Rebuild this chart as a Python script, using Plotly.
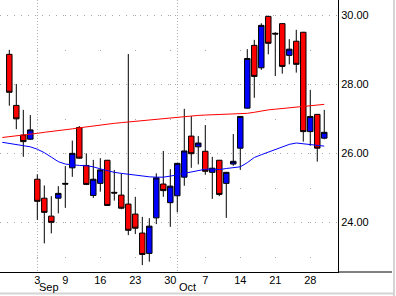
import plotly.graph_objects as go

# ---- data ----
idx = list(range(46))
opens  = [28.86, 27.38, 26.52, 26.40, 25.24, 24.69, 24.17, 24.69, 25.12, 25.57,
          26.74, 25.64, 24.77, 25.12, 25.79, 24.86, 24.78, 24.52, 24.23, 23.68,
          23.09, 24.12, 25.10, 24.56, 24.76, 25.30, 26.49, 26.18, 26.05, 25.44,
          25.79, 25.12, 25.68, 26.14, 27.30, 29.12, 28.47, 29.96, 29.47, 29.75,
          28.83, 29.24, 29.50, 26.62, 27.12, 26.43]
highs  = [28.99, 28.00, 27.25, 27.10, 25.38, 25.06, 24.75, 25.04, 25.62, 26.36,
          26.78, 25.99, 25.80, 25.85, 25.80, 25.51, 25.41, 28.87, 24.73, 24.15,
          24.11, 25.41, 26.06, 25.53, 25.71, 27.28, 27.07, 26.49, 26.81, 25.89,
          25.80, 25.45, 26.55, 27.07, 29.01, 29.28, 29.76, 29.98, 29.50, 29.76,
          29.30, 29.57, 29.51, 27.83, 27.13, 27.25]
lows   = [27.37, 26.69, 25.89, 26.38, 24.06, 23.38, 23.67, 24.25, 24.41, 25.31,
          25.84, 25.07, 24.70, 24.88, 24.47, 24.62, 24.37, 23.62, 23.65, 22.75,
          22.85, 23.94, 24.73, 23.86, 24.28, 25.05, 25.57, 25.67, 25.37, 24.67,
          24.75, 24.12, 25.63, 25.51, 27.29, 27.60, 28.41, 28.86, 28.23, 28.30,
          28.57, 28.33, 26.33, 26.21, 25.75, 26.40]
closes = [27.76, 26.99, 26.33, 26.67, 24.60, 24.28, 23.99, 24.83, 25.10, 25.99,
          25.85, 25.09, 25.24, 25.51, 24.48, 24.84, 24.40, 23.76, 23.82, 23.06,
          23.88, 25.28, 24.91, 25.04, 25.70, 26.06, 25.98, 26.29, 25.47, 25.56,
          24.80, 25.44, 25.76, 27.06, 28.74, 28.22, 29.70, 29.18, 29.45, 28.51,
          29.01, 28.57, 26.62, 27.06, 26.14, 26.60]

ma_x = list(range(-1, 46))
ma_long = [26.45, 26.47, 26.49, 26.52, 26.55, 26.57, 26.60, 26.62, 26.65, 26.68,
           26.70, 26.73, 26.76, 26.79, 26.82, 26.84, 26.86, 26.88, 26.90, 26.93,
           26.95, 26.97, 26.99, 27.00, 27.02, 27.04, 27.06, 27.08, 27.09, 27.10,
           27.11, 27.11, 27.12, 27.12, 27.13, 27.15, 27.18, 27.22, 27.25, 27.27,
           27.29, 27.31, 27.33, 27.36, 27.38, 27.40, 27.41]
ma_short = [26.31, 26.28, 26.25, 26.22, 26.18, 26.11, 26.01, 25.88, 25.75, 25.68,
            25.65, 25.64, 25.63, 25.60, 25.54, 25.48, 25.44, 25.41, 25.38, 25.35,
            25.33, 25.31, 25.30, 25.30, 25.33, 25.37, 25.42, 25.46, 25.50, 25.53,
            25.53, 25.52, 25.55, 25.58, 25.60, 25.72, 25.87, 25.95, 26.02, 26.10,
            26.18, 26.25, 26.29, 26.27, 26.24, 26.21, 26.20]

week_ticks = [4, 8, 13, 18, 23, 28, 33, 38, 43]
week_labels = ["3", "9", "16", "23", "30", "7", "14", "21", "28"]
month_starts = [4, 24]
month_labels = ["Sep", "Oct"]
price_ticks = [24, 26, 28, 30]

W, H = 396, 296
L, R, T, B = 0, 58, 0, 24
PW, PH = W - L - R, H - T - B
FONT = dict(family="Liberation Sans, Arial, sans-serif", size=11, color="black")

fig = go.Figure()
fig.add_trace(go.Scatter(x=ma_x, y=ma_long, mode="lines",
                         line=dict(color="#ff0000", width=1), hoverinfo="skip"))
fig.add_trace(go.Scatter(x=ma_x, y=ma_short, mode="lines",
                         line=dict(color="#0000ff", width=1), hoverinfo="skip"))
fig.add_trace(go.Candlestick(
    x=idx, open=opens, high=highs, low=lows, close=closes,
    increasing=dict(line=dict(color="black", width=1), fillcolor="#0000ff"),
    decreasing=dict(line=dict(color="black", width=1), fillcolor="#ff0000"),
    whiskerwidth=0,
))

annotations = [dict(x=m, y=(PH - 287) / PH, xref="x", yref="paper",
                    text=t, showarrow=False, xanchor="left", yanchor="middle",
                    font=FONT)
               for m, t in zip(month_starts, month_labels)]

shapes = [
    dict(type="line", xref="paper", yref="paper", x0=1, x1=392 / PW, y0=0, y1=0,
         line=dict(color="black", width=1)),
    dict(type="line", xref="paper", yref="paper", x0=394 / PW, x1=394 / PW,
         y0=(PH - H) / PH, y1=1, line=dict(color="#d4d4d4", width=2)),
    dict(type="line", xref="paper", yref="paper", x0=0, x1=395 / PW,
         y0=(PH - 293.5) / PH, y1=(PH - 293.5) / PH, line=dict(color="#d4d4d4", width=2)),
]

fig.update_layout(
    width=W, height=H, margin=dict(l=L, r=R, t=T, b=B),
    paper_bgcolor="white", plot_bgcolor="white", showlegend=False,
    boxgap=0.22, boxgroupgap=0,
    annotations=annotations, shapes=shapes,
    xaxis=dict(
        range=[-1.33, 46.96], rangeslider=dict(visible=False),
        tickmode="array", tickvals=week_ticks, ticktext=week_labels,
        tickfont=FONT, ticks="", ticklabelstandoff=-2,
        showline=True, linecolor="black", linewidth=1,
        showgrid=True, gridcolor="#a8a8a8", gridwidth=1, griddash="0px,15px,1px,18.5px",
        zeroline=False, fixedrange=True,
        minor=dict(tickmode="array", tickvals=month_starts, showgrid=True,
                   gridcolor="#b0b0b0", gridwidth=1, griddash="1px,2px", ticks=""),
    ),
    yaxis=dict(
        range=[22.551, 30.435], side="right", tickmode="array", tickvals=price_ticks,
        tickformat=".2f", tickfont=FONT, ticks="", showline=True, linecolor="black",
        linewidth=1, showgrid=True, gridcolor="#a8a8a8", gridwidth=1, griddash="1px,6px",
        zeroline=False, fixedrange=True,
    ),
)

fig.write_html("out.html")
